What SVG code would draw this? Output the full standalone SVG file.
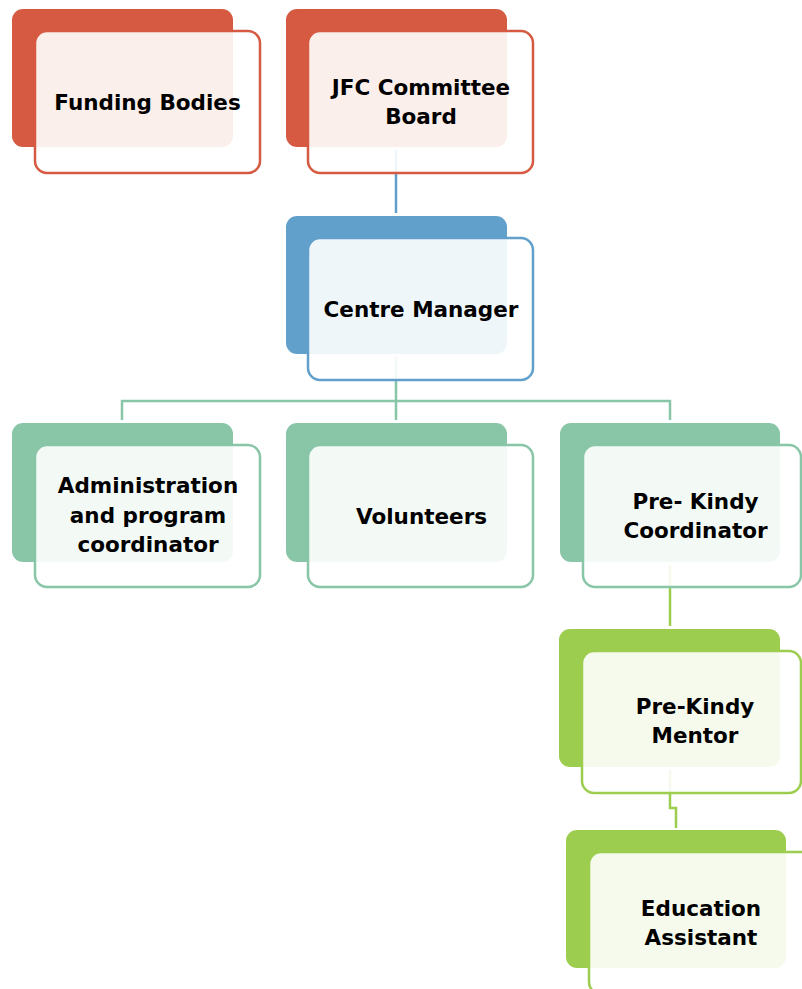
<svg xmlns="http://www.w3.org/2000/svg" width="802" height="989" viewBox="0 0 802 989">
<style>
.t{font-family:"DejaVu Sans","Liberation Sans",sans-serif;font-weight:bold;font-size:21.5px;fill:#000;text-anchor:middle}
.f{fill:#fff;fill-opacity:0.9;stroke-width:2.5}
.c{fill:none;stroke-width:2.5}
.red .b{fill:#D65A42}.red .f{stroke:#D65A42}
.blue .b{fill:#62A0CC}.blue .f{stroke:#62A0CC}
.green .b{fill:#89C5A7}.green .f{stroke:#89C5A7}
.lime .b{fill:#9CCD4E}.lime .f{stroke:#9CCD4E}
</style>
<rect width="802" height="989" fill="#fff"/>
<g id="connectors">
<path class="c" stroke="#62A0CC" d="M396 150V213"/>
<path class="c" stroke="#89C5A7" d="M396 357V420M122 420V401H670V420"/>
<path class="c" stroke="#9CCD4E" d="M670 565V626M670 770V808H676V828"/>
</g>
<g id="funding" class="red">
<rect class="b" x="12" y="9" width="221" height="138" rx="11"/>
<rect class="f" x="35" y="31" width="225" height="142" rx="12"/>
<text class="t" x="147.5" y="110">Funding Bodies</text>
</g>
<g id="jfc" class="red">
<rect class="b" x="286" y="9" width="221" height="138" rx="11"/>
<rect class="f" x="308" y="31" width="225" height="142" rx="12"/>
<text class="t" x="421" y="94.5">JFC Committee</text>
<text class="t" x="421" y="123.5">Board</text>
</g>
<g id="manager" class="blue">
<rect class="b" x="286" y="216" width="221" height="138" rx="11"/>
<rect class="f" x="308" y="238" width="225" height="142" rx="12"/>
<text class="t" x="421" y="317">Centre Manager</text>
</g>
<g id="admin" class="green">
<rect class="b" x="12" y="423" width="221" height="139" rx="11"/>
<rect class="f" x="35" y="445" width="225" height="142" rx="12"/>
<text class="t" x="148" y="493">Administration</text>
<text class="t" x="148" y="522.5">and program</text>
<text class="t" x="148" y="552">coordinator</text>
</g>
<g id="volunteers" class="green">
<rect class="b" x="286" y="423" width="221" height="139" rx="11"/>
<rect class="f" x="308" y="445" width="225" height="142" rx="12"/>
<text class="t" x="421.5" y="523.5">Volunteers</text>
</g>
<g id="coordinator" class="green">
<rect class="b" x="560" y="423" width="220" height="139" rx="11"/>
<rect class="f" x="583" y="445" width="218" height="142" rx="12"/>
<text class="t" x="695.5" y="508.5">Pre- Kindy</text>
<text class="t" x="695.5" y="537.5">Coordinator</text>
</g>
<g id="mentor" class="lime">
<rect class="b" x="559" y="629" width="221" height="138" rx="11"/>
<rect class="f" x="582" y="651" width="219" height="142" rx="12"/>
<text class="t" x="695" y="714">Pre-Kindy</text>
<text class="t" x="695" y="743">Mentor</text>
</g>
<g id="assistant" class="lime">
<rect class="b" x="566" y="830" width="220" height="138" rx="11"/>
<rect class="f" x="589" y="852" width="226" height="142" rx="12"/>
<text class="t" x="701" y="916">Education</text>
<text class="t" x="701" y="945">Assistant</text>
</g>
</svg>
